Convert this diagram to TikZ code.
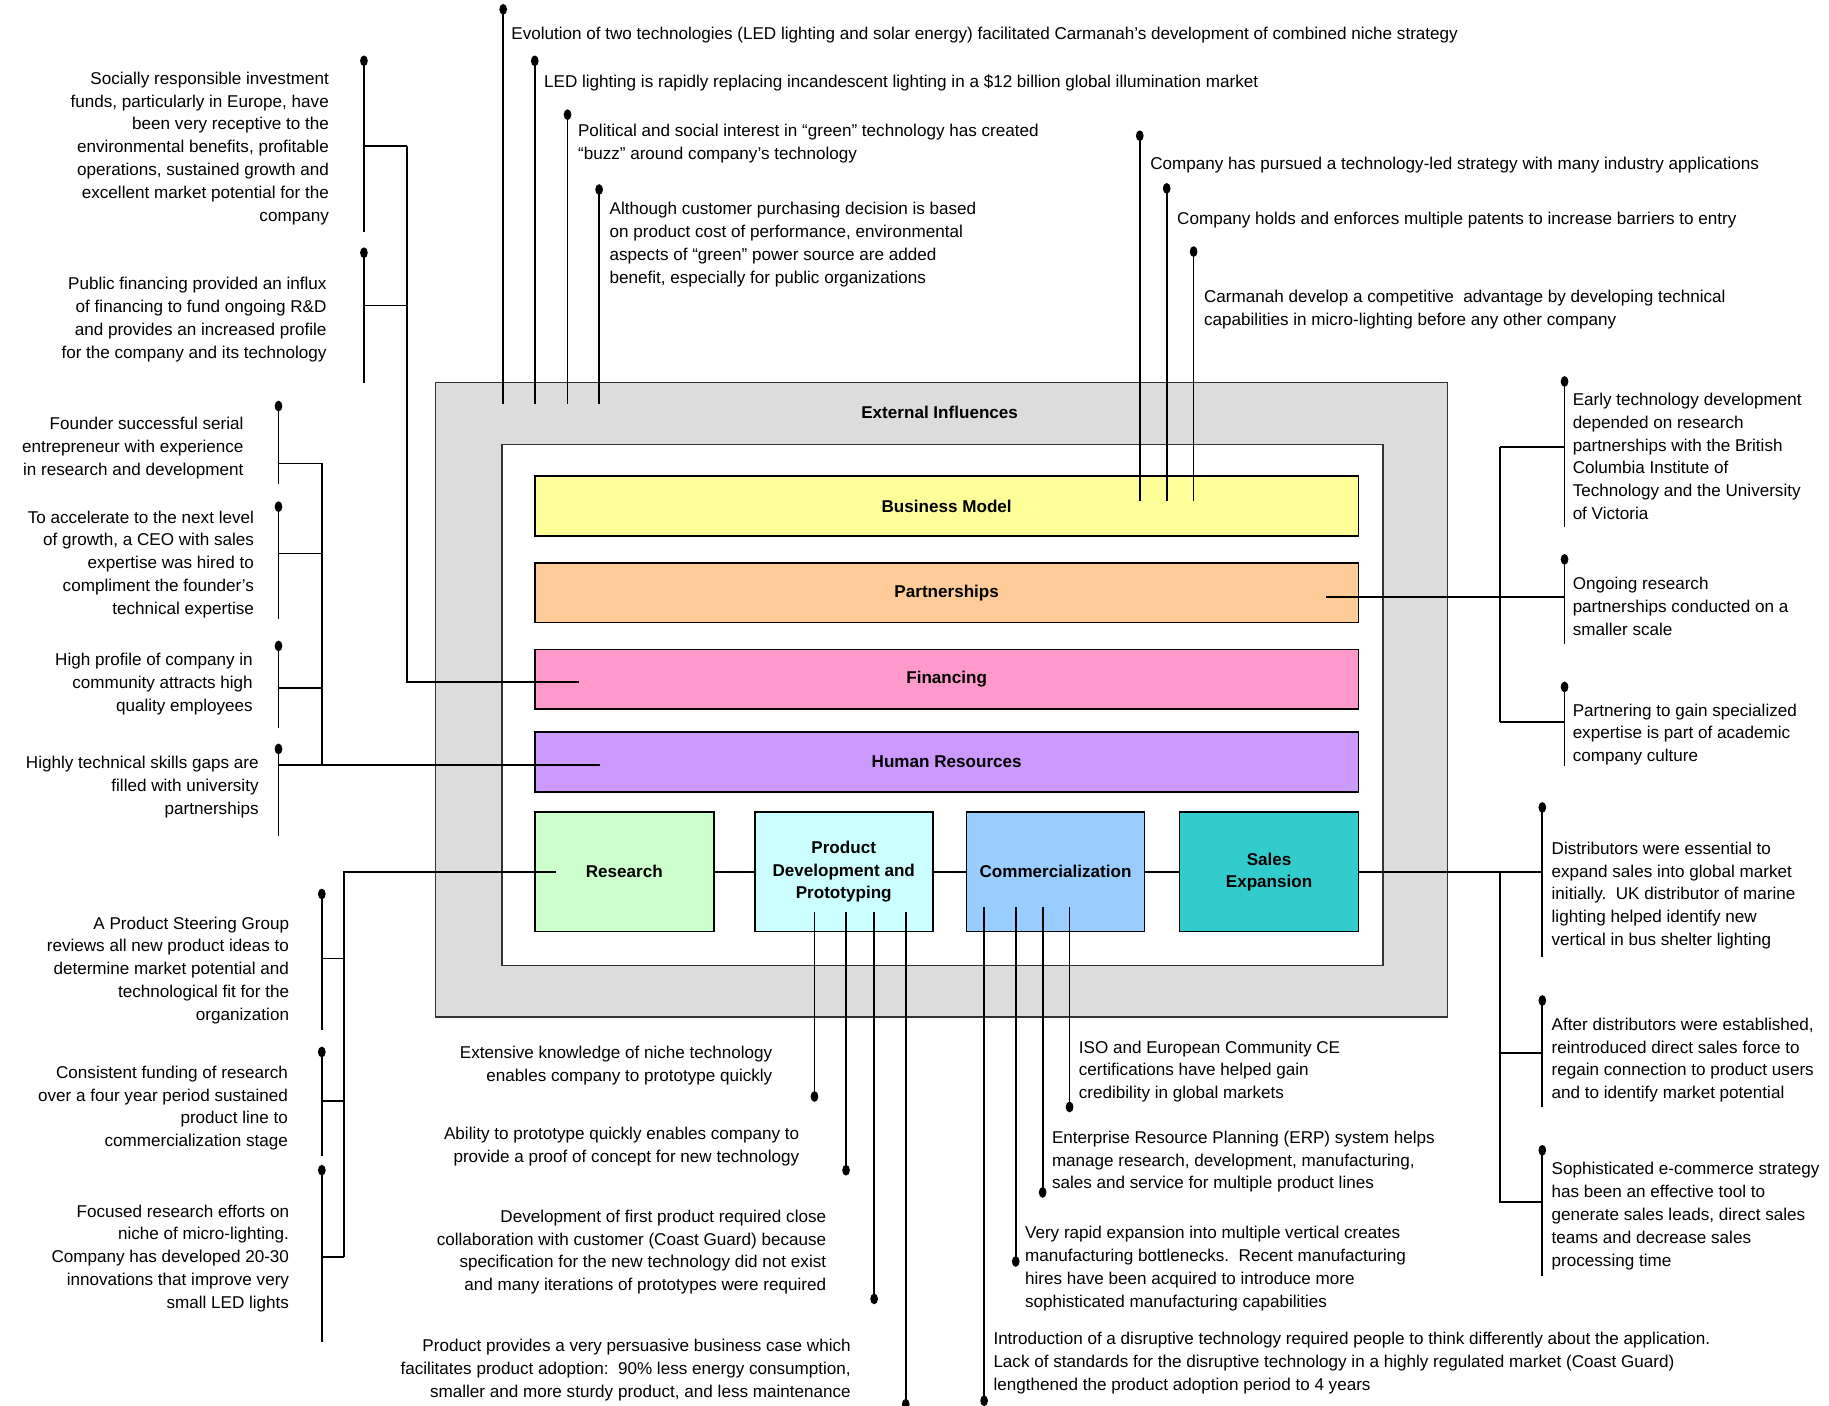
\documentclass[tikz,border=0pt]{standalone}
\usepackage{fontspec}
\setmainfont{Liberation Sans}
\definecolor{cBM}{HTML}{FFFF99}
\definecolor{cPA}{HTML}{FFCC99}
\definecolor{cFI}{HTML}{FF99CC}
\definecolor{cHR}{HTML}{CC99FF}
\definecolor{cRE}{HTML}{CCFFCC}
\definecolor{cPD}{HTML}{CCFFFF}
\definecolor{cCO}{HTML}{99CCFF}
\definecolor{cSE}{HTML}{33CCCC}
\definecolor{cEXT}{HTML}{DCDCDC}
\newcommand\pinmark[1]{\fill (#1) ellipse [x radius=3.3, y radius=4.6];}
\begin{document}
\begin{tikzpicture}[x=1pt,y=-1pt,
  every node/.style={inner sep=0pt, outer sep=0pt},
  txt/.style={font=\fontsize{14.6}{19.5}\selectfont},
  txtl/.style={txt, align=left, anchor=base west},
  txtr/.style={txt, align=right, anchor=base east},
  bar/.style={draw=black, line width=1.5pt, minimum width=704, minimum height=51, font=\bfseries\fontsize{14.6}{19}\selectfont},
  sq/.style={draw=black, line width=1.5pt, minimum width=153, minimum height=102, align=center, font=\bfseries\fontsize{14.6}{19}\selectfont},
  lead/.style={line width=1.5pt, black},
]
\useasboundingbox (0,0) rectangle (1563,1201);
% frames
\node[draw=black!80, line width=1.2pt, fill=cEXT, minimum width=865, minimum height=542] (ext) at (804.5,598) {};
\node[draw=black!80, line width=1.2pt, fill=white, minimum width=753, minimum height=445] (core) at (805.5,602.5) {};
\node[font=\bfseries\fontsize{14.6}{19}\selectfont] (extlab) at (803,352) {External Influences};
% bars
\node[bar, fill=cBM] (bm) at (809,432.5) {Business Model};
\node[bar, fill=cPA] (pa) at (809,506.5) {Partnerships};
\node[bar, fill=cFI] (fi) at (809,580.5) {Financing};
\node[bar, fill=cHR] (hr) at (809,651) {Human Resources};
% squares
\node[sq, fill=cRE] (re) at (533.5,745) {Research};
\node[sq, fill=cPD, minimum width=152] (pd) at (721,745) {Product\\Development and\\Prototyping};
\node[sq, fill=cCO, minimum width=152] (co) at (902,745) {Commercialization};
\node[sq, fill=cSE] (se) at (1084.5,745) {Sales\\Expansion};
\draw[lead] (re.east) -- (pd.west);
\draw[lead] (pd.east) -- (co.west);
\draw[lead] (co.east) -- (se.west);

% ---------- top external influences
\node[txtl] (t1) at (437,34) {Evolution of two technologies (LED lighting and solar energy) facilitated Carmanah’s development of combined niche strategy};
\node[txtl] (t2) at (465,75) {LED lighting is rapidly replacing incandescent lighting in a \$12 billion global illumination market};
\node[txtl] (t3) at (494,136) {Political and social interest in “green” technology has created\\“buzz” around company’s technology};
\node[txtl] (t4) at (521,242) {Although customer purchasing decision is based\\on product cost of performance, environmental\\aspects of “green” power source are added\\benefit, especially for public organizations};
\foreach \n/\x/\y in {a/430/8, b/457/52, c/485/98, d/512/162}{
  \coordinate (tp\n) at (\x,\y); \coordinate (te\n) at (\x,345);
  \draw[lead] (tp\n) -- (te\n); \pinmark{tp\n}
}
% ---------- business model
\node[txtl] (t5) at (983,145) {Company has pursued a technology-led strategy with many industry applications};
\node[txtl] (t6) at (1006,192) {Company holds and enforces multiple patents to increase barriers to entry};
\node[txtl] (t7) at (1029,278) {Carmanah develop a competitive\ \ advantage by developing technical\\capabilities in micro-lighting before any other company};
\foreach \n/\x/\y in {a/974/116, b/997/161, c/1020/215}{
  \coordinate (bp\n) at (\x,\y); \coordinate (be\n) at (\x,428);
  \draw[lead] (bp\n) -- (be\n); \pinmark{bp\n}
}
% ---------- financing
\node[txtr] (l1) at (281,189) {Socially responsible investment\\funds, particularly in Europe, have\\been very receptive to the\\environmental benefits, profitable\\operations, sustained growth and\\excellent market potential for the\\company};
\node[txtr] (l2) at (279,306) {Public financing provided an influx\\of financing to fund ongoing R\&D\\and provides an increased profile\\for the company and its technology};
\coordinate (fpa) at (311,52); \coordinate (fea) at (311,198);
\coordinate (fpb) at (311,216); \coordinate (feb) at (311,327);
\draw[lead] (fpa) -- (fea); \pinmark{fpa}
\draw[lead] (fpb) -- (feb); \pinmark{fpb}
\coordinate (fj1) at (348,125); \coordinate (fj2) at (348,261); \coordinate (fj3) at (348,583); \coordinate (fin) at (495,583);
\draw[lead] (311,125) -- (fj1);
\draw[lead] (311,261) -- (fj2);
\draw[lead] (fj1) -- (fj3) -- (fin);
% ---------- human resources
\node[txtr] (l3) at (208,406) {Founder successful serial\\entrepreneur with experience\\in research and development};
\node[txtr] (l4) at (217,525) {To accelerate to the next level\\of growth, a CEO with sales\\expertise was hired to\\compliment the founder’s\\technical expertise};
\node[txtr] (l5) at (216,608) {High profile of company in\\community attracts high\\quality employees};
\node[txtr] (l6) at (221,696) {Highly technical skills gaps are\\filled with university\\partnerships};
\foreach \n/\a/\b in {a/347/414, b/433/529, c/552/622, d/640/714}{
  \coordinate (hp\n) at (238,\a); \coordinate (he\n) at (238,\b);
  \draw[lead] (hp\n) -- (he\n); \pinmark{hp\n}
}
\coordinate (hj1) at (275,396); \coordinate (hj2) at (275,654); \coordinate (hrin) at (513,654);
\draw[lead] (238,396) -- (hj1);
\draw[lead] (238,473) -- (275,473);
\draw[lead] (238,588) -- (275,588);
\draw[lead] (hj1) -- (hj2);
\draw[lead] (238,654) -- (hrin);
% ---------- research
\node[txtr] (l7) at (247,872) {A Product Steering Group\\reviews all new product ideas to\\determine market potential and\\technological fit for the\\organization};
\node[txtr] (l8) at (246,980) {Consistent funding of research\\over a four year period sustained\\product line to\\commercialization stage};
\node[txtr] (l9) at (247,1118) {Focused research efforts on\\niche of micro-lighting.\\Company has developed 20-30\\innovations that improve very\\small LED lights};
\foreach \n/\a/\b in {a/764/880, b/899/988, c/1000/1147}{
  \coordinate (rp\n) at (275,\a); \coordinate (rq\n) at (275,\b);
  \draw[lead] (rp\n) -- (rq\n); \pinmark{rp\n}
}
\coordinate (rj1) at (294,745); \coordinate (rj2) at (294,1074); \coordinate (rein) at (475,745);
\draw[lead] (275,819) -- (294,819);
\draw[lead] (275,941) -- (294,941);
\draw[lead] (275,1074) -- (rj2);
\draw[lead] (rj2) -- (rj1) -- (rein);
% ---------- partnerships
\node[txtl] (r1) at (1344,444) {Early technology development\\depended on research\\partnerships with the British\\Columbia Institute of\\Technology and the University\\of Victoria};
\node[txtl] (r2) at (1344,543) {Ongoing research\\partnerships conducted on a\\smaller scale};
\node[txtl] (r3) at (1344,651) {Partnering to gain specialized\\expertise is part of academic\\company culture};
\foreach \n/\a/\b in {a/326/450, b/478/550, c/587/655}{
  \coordinate (pp\n) at (1337,\a); \coordinate (pq\n) at (1337,\b);
  \draw[lead] (pp\n) -- (pq\n); \pinmark{pp\n}
}
\coordinate (pj1) at (1282,382); \coordinate (pj2) at (1282,617); \coordinate (pain) at (1133,510);
\draw[lead] (pj1) -- (1337,382);
\draw[lead] (pj2) -- (1337,617);
\draw[lead] (pj1) -- (pj2);
\draw[lead] (pain) -- (1337,510);
% ---------- sales expansion
\node[txtl] (r4) at (1326,808) {Distributors were essential to\\expand sales into global market\\initially.\ \ UK distributor of marine\\lighting helped identify new\\vertical in bus shelter lighting};
\node[txtl] (r5) at (1326,939) {After distributors were established,\\reintroduced direct sales force to\\regain connection to product users\\and to identify market potential};
\node[txtl] (r6) at (1326,1082) {Sophisticated e-commerce strategy\\has been an effective tool to\\generate sales leads, direct sales\\teams and decrease sales\\processing time};
\foreach \n/\a/\b in {a/690/818, b/855/946, c/983/1090}{
  \coordinate (sp\n) at (1318,\a); \coordinate (sq\n) at (1318,\b);
  \draw[lead] (sp\n) -- (sq\n); \pinmark{sp\n}
}
\coordinate (sj1) at (1282,745); \coordinate (sj2) at (1282,1027);
\draw[lead] (se.east) -- (1318,745);
\draw[lead] (sj1) -- (sj2) -- (1318,1027);
\draw[lead] (1282,900) -- (1318,900);
% ---------- product development
\node[txtr] (b1) at (660,924) {Extensive knowledge of niche technology\\enables company to prototype quickly};
\node[txtr] (b2) at (683,993) {Ability to prototype quickly enables company to\\provide a proof of concept for new technology};
\node[txtr] (b3) at (706,1103) {Development of first product required close\\collaboration with customer (Coast Guard) because\\specification for the new technology did not exist\\and many iterations of prototypes were required};
\node[txtr] (b4) at (727,1194) {Product provides a very persuasive business case which\\facilitates product adoption:\ \ 90\% less energy consumption,\\smaller and more sturdy product, and less maintenance};
\foreach \n/\x/\y in {a/696/937, b/723/1000, c/747/1110, d/774/1200}{
  \coordinate (dp\n) at (\x,\y); \coordinate (ds\n) at (\x,779);
  \draw[lead] (ds\n) -- (dp\n); \pinmark{dp\n}
}
% ---------- commercialization
\node[txtl] (c1) at (922,939) {ISO and European Community CE\\certifications have helped gain\\credibility in global markets};
\node[txtl] (c2) at (899,1016) {Enterprise Resource Planning (ERP) system helps\\manage research, development, manufacturing,\\sales and service for multiple product lines};
\node[txtl] (c3) at (876,1117) {Very rapid expansion into multiple vertical creates\\manufacturing bottlenecks.\ \ Recent manufacturing\\hires have been acquired to introduce more\\sophisticated manufacturing capabilities};
\node[txtl] (c4) at (849,1188) {Introduction of a disruptive technology required people to think differently about the application.\\Lack of standards for the disruptive technology in a highly regulated market (Coast Guard)\\lengthened the product adoption period to 4 years};
\foreach \n/\x/\y in {a/841/1197, b/868/1078, c/891/1019, d/914/946}{
  \coordinate (cp\n) at (\x,\y); \coordinate (cs\n) at (\x,775);
  \draw[lead] (cs\n) -- (cp\n); \pinmark{cp\n}
}
\end{tikzpicture}
\end{document}
